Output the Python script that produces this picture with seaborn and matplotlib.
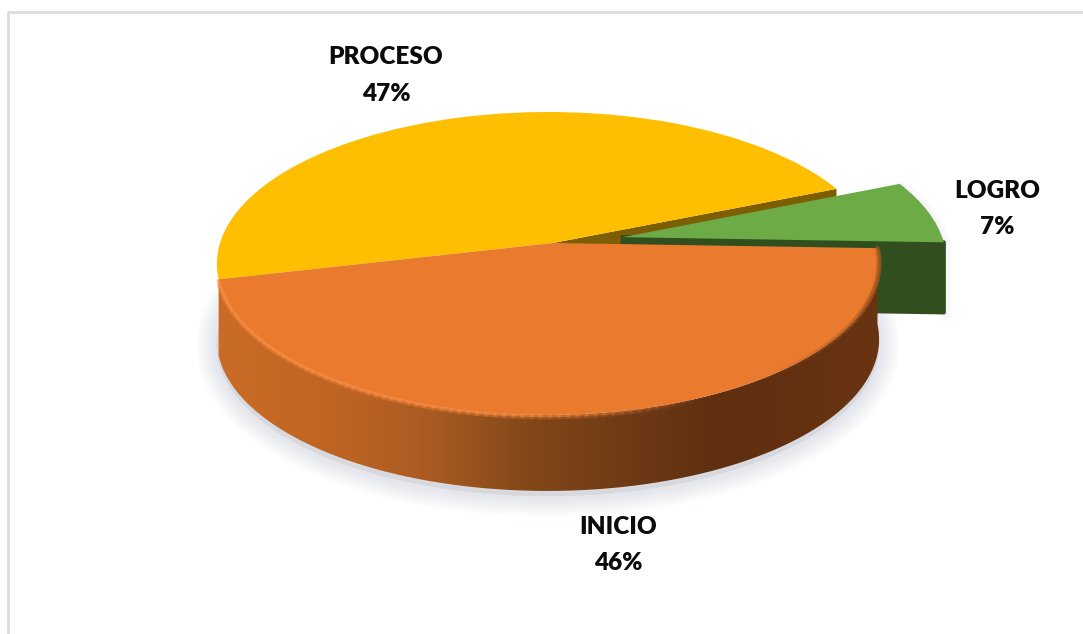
import numpy as np
import seaborn as sns
import matplotlib
matplotlib.use('Agg')
import matplotlib.pyplot as plt
from matplotlib.colors import LinearSegmentedColormap
from matplotlib.patches import Polygon
from matplotlib.transforms import Transform

# Data
categories = ['LOGRO', 'PROCESO', 'INICIO']
values = [6.9, 47.4, 45.7]

sns.set_theme(style='white')
plt.rcParams['font.family'] = ['Lato', 'DejaVu Sans']

W, H = 1083, 634
colors = sns.color_palette(['#6DAB46', '#FDBF00', '#E97A2E'])
START = -2.0
EXPLODE = [0.218, 0, 0]

# where the pie sits in the picture (pixels)
CX, CY, RX, RY, TILT, SKEW = 553, 243, 328, 148.7, 0.135, 0.015
DEPTH = 76
GREEN_DEPTH = 70


def project(x, y, drop=0):
    # flat pie -> tilted disc with a bit of perspective
    w = 1 + TILT * y + SKEW * x
    return CX + RX * x / w, CY - RY * y / w + drop


class Tilt(Transform):
    input_dims = output_dims = 2

    def __init__(self, drop=0):
        super().__init__()
        self.drop = drop

    def transform_non_affine(self, values):
        px, py = project(values[:, 0], values[:, 1], self.drop)
        return np.column_stack([px, py])


def rim(a0, a1, shift=(0, 0), drop=0, n=200):
    t = np.radians(np.linspace(a0, a1, n))
    return np.column_stack(project(np.cos(t) + shift[0], np.sin(t) + shift[1], drop))


def extruded(a0, a1, shift=(0, 0), depth=DEPTH):
    return np.vstack([rim(a0, a1, shift), rim(a0, a1, shift, depth)[::-1]])


fig = plt.figure(figsize=(W / 100, H / 100), dpi=100, facecolor='white')
ax = fig.add_axes([0, 0, 1, 1])

# slice angles
edges = START + np.cumsum([0] + values) * 3.6
mid_logro = np.radians((edges[0] + edges[1]) / 2)
shift = (EXPLODE[0] * np.cos(mid_logro), EXPLODE[0] * np.sin(mid_logro))

# soft shadow under the disc
outline = rim(165, 375, drop=DEPTH + 5)
for lw in np.linspace(30, 2, 14):
    ax.add_patch(Polygon(outline, closed=True, fc='#cfd3df', ec='#cfd3df', lw=lw, alpha=0.045,
                         joinstyle='round', zorder=1))
out_green = extruded(edges[0], edges[1], shift, GREEN_DEPTH)
for lw in np.linspace(10, 2, 5):
    ax.add_patch(Polygon(out_green + [2, 3], closed=True, fc='#cfd3df', ec='#cfd3df', lw=lw, alpha=0.04,
                         joinstyle='round', zorder=1))

# cut face of the yellow slice, seen through the gap left by the green one
end_x, end_y = np.cos(np.radians(edges[1])), np.sin(np.radians(edges[1]))
p = np.array([project(0, 0), project(end_x, end_y), project(end_x, end_y, DEPTH), project(0, 0, DEPTH)])
ax.add_patch(Polygon(p, closed=True, fc='#7D5E05', ec='none', zorder=3))

# green side
green_side = np.array([project(*shift), project(np.cos(np.radians(edges[0])) + shift[0],
                                                np.sin(np.radians(edges[0])) + shift[1]),
                       project(np.cos(np.radians(edges[0])) + shift[0],
                               np.sin(np.radians(edges[0])) + shift[1], GREEN_DEPTH),
                       project(shift[0], shift[1], GREEN_DEPTH)])
ax.add_patch(Polygon(green_side, closed=True, fc='#304E1E', ec='#304E1E', lw=3, joinstyle='round', zorder=4))

# top faces
tr = Tilt() + ax.transData
wedges, _ = ax.pie(values, colors=colors, startangle=START, explode=EXPLODE,
                   wedgeprops={'transform': tr, 'linewidth': 0})
for w, order in zip(wedges, [5, 4, 8]):
    w.set_zorder(order)

# side of the orange slice, shaded from left to right
stops_x = [218, 330, 430, 530, 620, 720, 880]
stops_c = ['#C96C27', '#BF6522', '#AA5B22', '#824719', '#703B16', '#5F2F10', '#693411']
cmap = LinearSegmentedColormap.from_list('side', list(zip((np.array(stops_x) - 218) / (880 - 218), stops_c)))
im = ax.imshow(np.linspace(0, 1, 400)[None, :], extent=(218, 880, 510, 240), cmap=cmap, aspect='auto', zorder=6)
side = Polygon(extruded(edges[2], edges[3]), closed=True, transform=ax.transData, fc='none', ec='none')
ax.add_patch(side)
im.set_clip_path(side)

# soft lip on the rim of the orange slice, bright on the left, dark on the right
arc = rim(edges[2], edges[3], n=120)
for i in range(len(arc) - 1):
    f = i / (len(arc) - 1)
    seg_x, seg_y = arc[i:i + 2, 0], arc[i:i + 2, 1]
    if f < 0.6:
        a = min(1, (0.6 - f) * 5)
        ax.plot(seg_x, seg_y + 2, color='#F98B40', lw=3.5, alpha=a * 0.3, zorder=9)
        ax.plot(seg_x, seg_y + 1, color='#F98B40', lw=1.8, alpha=a * 0.7, zorder=9)
    elif f > 0.68:
        a = min(1, (f - 0.68) * 5)
        ax.plot(seg_x, seg_y, color='#A85A20', lw=3.5, alpha=a * 0.5, zorder=9)

# labels
label_pos = [(997, 209), (386, 75.5), (618, 545)]
for name, val, (lx, ly) in zip(categories, values, label_pos):
    ax.text(lx, ly, f'{name}\n{val:.0f}%', ha='center', va='center', fontsize=17.5, fontweight='heavy',
            color='#0B0B0B', linespacing=1.78, zorder=10)

# chart frame, only top and left make it into the picture
ax.plot([8, 8], [H, 12], color='#DCDCDC', lw=2, zorder=0)
ax.plot([8, W], [12, 12], color='#DCDCDC', lw=2, zorder=0)

ax.set_aspect('auto')
ax.set_xlim(0, W)
ax.set_ylim(H, 0)
ax.axis('off')

fig.savefig('out.png', dpi=100)
